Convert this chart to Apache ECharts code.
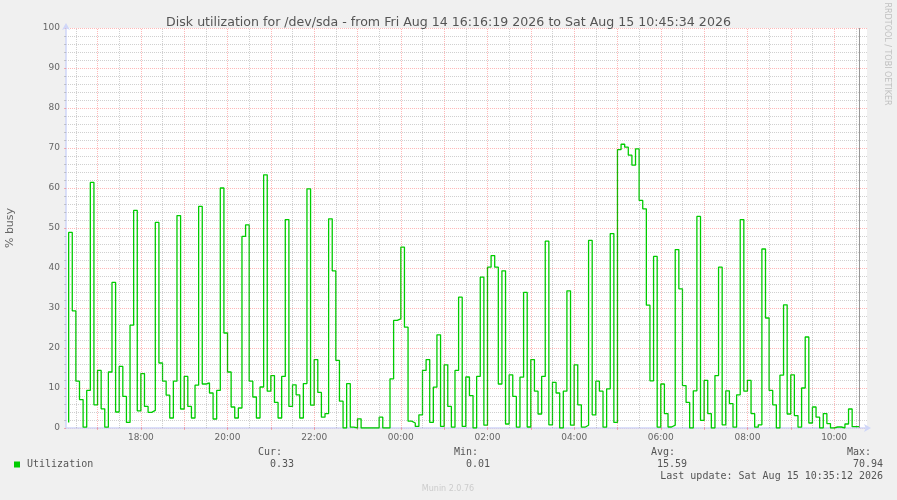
<!DOCTYPE html>
<html>
<head>
<meta charset="utf-8">
<title>Disk utilization for /dev/sda</title>
<script src="https://cdn.jsdelivr.net/npm/echarts@6/dist/echarts.min.js"></script>
<style>
    html, body { margin: 0; padding: 0; background: #f0f0f0; }
    #chart { width: 897px; height: 500px; }
</style>
</head>
<body>
<div id="chart"></div>
<script>
// 5 分钟采样 (% busy)，第一点 16:20，最后一点 10:35
const utilEvening = [
    1.4, 48.9, 29.3, 11.7, 7.1, 0.2, 9.4, 61.4, 5.8, 14.4, 4.8, 0.2, 14, 36.4, 4, 15.4, 7.9, 1.4,
    25.7, 54.4, 4.3, 13.6, 5.4, 3.9, 4.4, 51.4, 16.25,
    11.7, 8.2, 2.5, 11.7, 53.1, 4.75, 12.9, 5.4, 2.5, 10.7, 55.4, 11, 11.25, 8.75, 2.25, 9.4,
    60, 23.75, 14, 5.25, 2.5, 5, 47.9, 50.8, 11.7, 7.75, 2.5, 10.25,
    63.3, 9.2, 13.1, 6.4, 2.5, 12.9, 52.1, 5.4, 10.8, 8.3, 2.5, 11.1, 59.8, 5.7, 17.1, 8.9,
    2.7, 3.6, 52.3, 39.3, 16.9, 6.7, 0, 11.1, 0.2, 0, 2.3, 0
];
const utilNight = [
    0, 0, 0, 0, 2.7, 0, 0, 12.3, 26.9, 27.3, 45.2, 25.2, 1.7, 1.25, 0.4, 3.3, 14.4, 17.1,
    1.4, 10.2, 23.3, 0.4, 15.8, 5.4, 0.2, 14.4, 32.7, 0.4,
    12.75, 8.1, 0, 12.9, 37.7, 0.7, 40.2, 43.1, 40.2, 11, 39.3, 1, 13.3, 7.9, 0.2, 12.7,
    33.9, 0.25, 17.1, 9.2, 3.5, 12.9, 46.7, 0.8, 11.4, 8.75, 0, 9.2,
    34.3, 0.7, 15.8, 5.8, 0.2, 0.7, 46.9, 3.3, 11.7, 9.2, 0.2, 9.8, 48.6, 1.4
];
const utilMorning = [
    69.6, 70.94, 70.2, 68.2, 65.7, 69.8, 56.9, 54.8, 30.7, 11.8, 42.9, 0.2, 11,
    3.6, 0.25, 0.7, 44.6, 34.8, 10.6, 6.4, 0, 9.3, 52.9, 1.9, 11.9, 3.6, 0, 13.1, 40.2,
    0.8, 9.3, 6.1, 0.2, 8.3, 52.1, 9.2, 11.9, 3.6, 0.2, 0.8, 44.75,
    27.5, 9.4, 5.8, 0, 13.2, 30.8, 3.5, 13.3, 3.1, 0.2, 10, 22.75, 1.25, 5.25, 2.7, 0,
    3.6, 1.1, 0, 0.25, 0.25, 0, 1, 4.75, 0.33, 0.33
];
const utilization = utilEvening.concat(utilNight, utilMorning);

// 坐标轴刻度标签 (每 2 小时)
const xLabels = ['18:00', '20:00', '22:00', '00:00', '02:00', '04:00', '06:00', '08:00', '10:00'];

// 图例统计
const statNames = ['Cur:', 'Min:', 'Avg:', 'Max:'];
const statValues = ['0.33', '0.01', '15.59', '70.94'];

const titleText = 'Disk utilization for /dev/sda - from Fri Aug 14 16:16:19 2026 to Sat Aug 15 10:45:34 2026';
const lastUpdate = 'Last update: Sat Aug 15 10:35:12 2026';

// 时间范围 (UTC 毫秒)
const MIN = 60 * 1000;
const HOUR = 60 * MIN;
const viewStart = Date.UTC(2026, 7, 14, 16, 16, 19);
const viewEnd = Date.UTC(2026, 7, 15, 10, 45, 34);
const firstSample = Date.UTC(2026, 7, 14, 16, 20, 0);
const sampleStep = 5 * MIN;

const seriesData = utilization.map((v, i) => [firstSample + i * sampleStep, v]);
const lastSample = seriesData[seriesData.length - 1][0];

const labelTimes = xLabels.map((s, i) => Date.UTC(2026, 7, 14, 18, 0, 0) + i * 2 * HOUR);
const labelMap = {};
labelTimes.forEach((t, i) => { labelMap[t] = xLabels[i]; });

// 颜色
const colors = {
    line: '#00cc00',
    axis: '#cfd6f8',
    majorGrid: 'rgba(255, 0, 0, 0.28)',
    minorGrid: 'rgba(128, 128, 128, 0.37)',
    font: '#666666'
};

// 竖直网格线：整点红色，半点灰色
const hourTicks = [];
const marks = [];
for (let t = Date.UTC(2026, 7, 14, 16, 30, 0); t < viewEnd; t += 30 * MIN) {
    const major = new Date(t).getUTCMinutes() === 0;
    if (major) hourTicks.push(t);
    marks.push({
        xAxis: t,
        lineStyle: { color: major ? colors.majorGrid : colors.minorGrid, width: 1, type: [1, 1] }
    });
}
// 最后更新位置的竖线
marks.push({ xAxis: lastSample, lineStyle: { color: '#999999', width: 1, type: 'solid' } });

const chart = echarts.init(document.getElementById('chart'), null, { renderer: 'canvas' });

const monoFont = '10px "DejaVu Sans Mono", monospace';
const legendGraphics = [
    { type: 'rect', shape: { x: 14, y: 461.5, width: 6, height: 6 }, style: { fill: colors.line } },
    { type: 'text', x: 27, y: 464.5, style: { text: 'Utilization', font: monoFont, fill: '#555', verticalAlign: 'middle' } }
];
const statX = [[258, 270], [454, 466], [651, 657], [847, 853]];
statNames.forEach((name, i) => {
    legendGraphics.push({ type: 'text', x: statX[i][0], y: 452.5, style: { text: name, font: monoFont, fill: '#555', verticalAlign: 'middle' } });
    legendGraphics.push({ type: 'text', x: statX[i][1], y: 464.5, style: { text: statValues[i], font: monoFont, fill: '#555', verticalAlign: 'middle' } });
});
legendGraphics.push({ type: 'text', x: 883, y: 476.7, style: { text: lastUpdate, font: monoFont, fill: '#555', align: 'right', verticalAlign: 'middle' } });

const option = {
    backgroundColor: '#f0f0f0',
    animation: false,
    title: {
        text: titleText,
        left: 'center',
        top: 11,
        textStyle: { fontFamily: 'DejaVu Sans', fontSize: 12.6, fontWeight: 'normal', color: '#555' }
    },
    grid: { left: 66, right: 30, top: 28, bottom: 72, show: true, backgroundColor: '#ffffff', borderWidth: 0 },
    xAxis: {
        type: 'value',
        min: viewStart,
        max: viewEnd,
        axisLine: {
            show: true,
            lineStyle: { color: colors.axis, width: 1.5 },
            symbol: ['none', 'arrow'],
            symbolSize: [6, 7],
            symbolOffset: [0, 4]
        },
        axisTick: { show: true, customValues: hourTicks, length: 2, lineStyle: { color: colors.majorGrid } },
        axisLabel: {
            customValues: labelTimes,
            formatter: v => labelMap[v] || '',
            color: colors.font,
            fontFamily: 'DejaVu Sans',
            fontSize: 9,
            margin: 5
        },
        splitLine: { show: false }
    },
    yAxis: {
        type: 'value',
        min: 0,
        max: 100,
        interval: 10,
        axisLine: {
            show: true,
            lineStyle: { color: colors.axis, width: 1.5 },
            symbol: ['none', 'arrow'],
            symbolSize: [6, 7],
            symbolOffset: [0, 5]
        },
        axisTick: { show: true, length: 2, lineStyle: { color: colors.majorGrid } },
        minorTick: { show: true, splitNumber: 5, length: 2, lineStyle: { color: colors.minorGrid } },
        axisLabel: { color: colors.font, fontFamily: 'DejaVu Sans', fontSize: 9, margin: 6 },
        splitLine: { show: true, lineStyle: { color: colors.majorGrid, width: 1, type: [1, 1] } },
        minorSplitLine: { show: true, lineStyle: { color: colors.minorGrid, width: 1, type: [1, 1] } }
    },
    series: [
        {
            name: 'Utilization',
            type: 'line',
            step: 'start',
            data: seriesData,
            showSymbol: false,
            lineStyle: { color: colors.line, width: 1.3 },
            itemStyle: { color: colors.line },
            markLine: {
                silent: true,
                symbol: ['none', 'none'],
                label: { show: false },
                animation: false,
                data: marks
            }
        }
    ],
    graphic: [
        {
            type: 'text', x: 10, y: 228, rotation: Math.PI / 2,
            style: { text: '% busy', font: '11px "DejaVu Sans"', fill: colors.font, align: 'center', verticalAlign: 'middle' }
        },
        {
            type: 'text', x: 887, y: 54, rotation: -Math.PI / 2,
            style: { text: 'RRDTOOL / TOBI OETIKER', font: '8px "DejaVu Sans"', fill: '#c0c0c0', align: 'center', verticalAlign: 'middle' }
        },
        {
            type: 'text', x: 448, y: 489,
            style: { text: 'Munin 2.0.76', font: '8px "DejaVu Sans"', fill: '#cccccc', align: 'center', verticalAlign: 'middle' }
        }
    ].concat(legendGraphics)
};

chart.setOption(option);
</script>
</body>
</html>
